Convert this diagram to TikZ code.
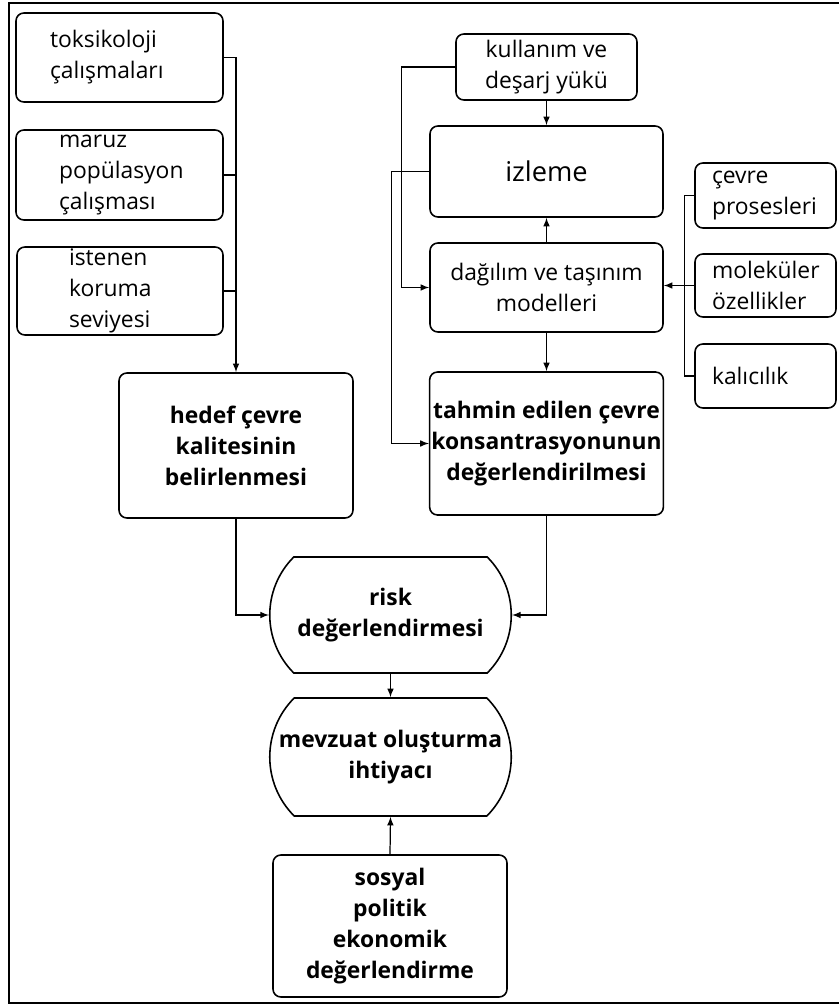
\documentclass[tikz,border=0pt]{standalone}
\usepackage{fontspec}
\setmainfont{Open Sans}
\usepackage{tikz}
\usetikzlibrary{shapes.misc}

\tikzset{
	box/.style={draw, line width=0.9pt, rounded corners=4.5pt, font=\fontsize{13}{17.6}\selectfont, align=center, inner sep=1pt},
	leftbox/.style={box, align=left, text width=#1},
	boldbox/.style={box, font=\fontsize{13}{17.6}\selectfont\bfseries},
	capsule/.style={draw, line width=0.9pt, rounded rectangle, rounded rectangle arc length=90, font=\fontsize{13}{17.6}\selectfont\bfseries, align=center, inner sep=1pt},
	line/.style={line width=0.7pt},
	arr/.style={line width=0.7pt, -latex}
}

\begin{document}
\begin{tikzpicture}
							\useasboundingbox (0,0) rectangle (16.76,-20.1);
							\draw[line width=1.3pt] (16.9,-0.06) -- (0.18,-0.06) -- (0.18,-20.06) -- (16.9,-20.06);
							
							\node[box, leftbox=2.78cm, minimum width=4.14cm, minimum height=1.78cm] (tox) at (2.39,-1.15) {toksikoloji\\çalışmaları};
							\node[box, leftbox=2.42cm, minimum width=4.14cm, minimum height=1.80cm] (maruz) at (2.39,-3.50) {maruz\\popülasyon\\çalışması};
							\node[box, leftbox=2.04cm, minimum width=4.12cm, minimum height=1.76cm] (ist) at (2.40,-5.82) {istenen\\koruma\\seviyesi};
							\node[boldbox, minimum width=4.68cm, minimum height=2.90cm] (hedef) at (4.72,-8.91) {hedef çevre\\kalitesinin\\belirlenmesi};
							
							\node[box, minimum width=3.62cm, minimum height=1.32cm] (kul) at (10.93,-1.34) {kullanım ve\\deşarj yükü};
							\node[box, minimum width=4.66cm, minimum height=1.82cm, font=\fontsize{15.5}{19}\selectfont] (izl) at (10.93,-3.43) {izleme};
							\node[box, minimum width=4.66cm, minimum height=1.78cm] (dag) at (10.93,-5.75) {dağılım ve taşınım\\modelleri};
							\node[boldbox, minimum width=4.66cm, minimum height=2.86cm] (tah) at (10.93,-8.87) {tahmin edilen çevre\\konsantrasyonunun\\değerlendirilmesi};
							
							\node[box, leftbox=2.14cm, minimum width=2.82cm, minimum height=1.30cm] (cev) at (15.31,-3.91) {çevre\\prosesleri};
							\node[box, leftbox=2.14cm, minimum width=2.82cm, minimum height=1.26cm] (mol) at (15.31,-5.71) {moleküler\\özellikler};
							\node[box, leftbox=2.14cm, minimum width=2.82cm, minimum height=1.28cm] (kal) at (15.31,-7.52) {kalıcılık};
							
							\node[capsule, minimum width=4.90cm, minimum height=2.32cm] (risk) at (7.81,-12.30) {risk\\değerlendirmesi};
							\node[capsule, minimum width=4.90cm, minimum height=2.36cm] (mev) at (7.81,-15.14) {mevzuat oluşturma\\ihtiyacı};
							\node[boldbox, minimum width=4.68cm, minimum height=2.84cm] (sos) at (7.80,-18.52) {sosyal\\politik\\ekonomik\\değerlendirme};
							
							\draw[arr] (tox.east) -| (hedef.north);
							\draw[line] (maruz.east) -- (maruz.east -| hedef.north);
							\draw[line] (ist.east) -- (ist.east -| hedef.north);
							\draw[arr] (hedef.south) |- (risk.west);
							\draw[arr] (tah.south) |- (risk.east);
							\draw[arr] (risk.south) -- (mev.north);
							\draw[arr] (sos.north) -- (mev.south);
							
							\draw[arr] (kul.south) -- (izl.north);
							\draw[arr] (dag.north) -- (izl.south);
							\draw[arr] (dag.south) -- (tah.north);
							\draw[arr] (kul.west) -- ++(-1.08,0) |- (dag.west);
							\draw[arr] (izl.west) -- ++(-0.76,0) |- (tah.west);
							
							\draw[line] (cev.west) -- ++(-0.2,0) |- (kal.west);
							\draw[arr] (mol.west) -- (mol.west -| dag.east);
						\end{tikzpicture}
\end{document}
